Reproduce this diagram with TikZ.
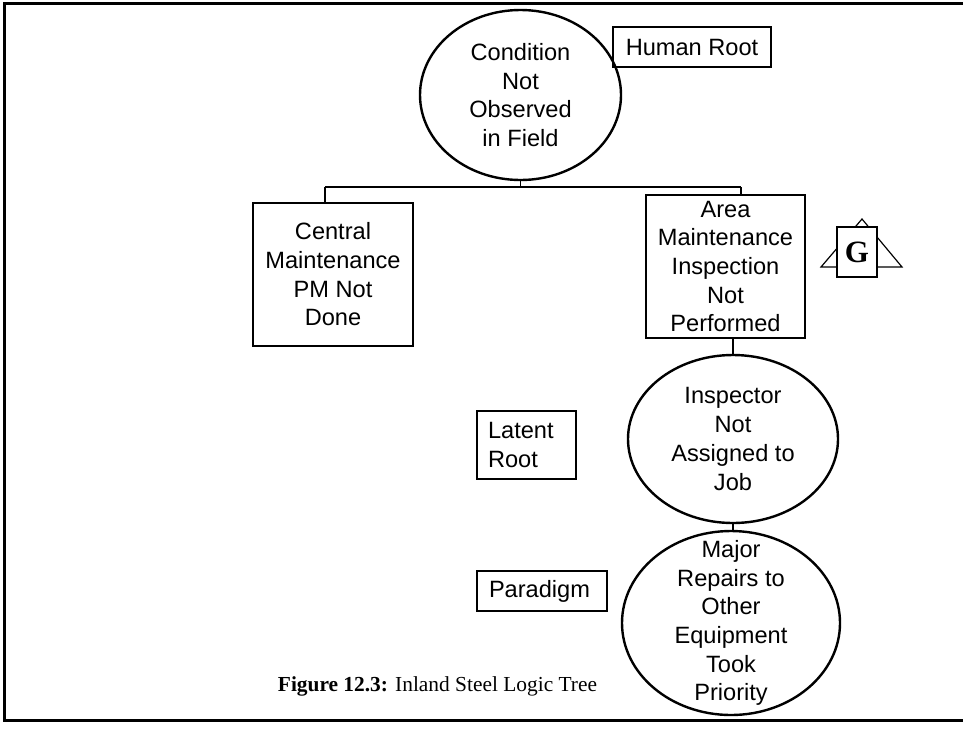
\documentclass[tikz,border=0pt]{standalone}
\usepackage{fontspec}
\setmainfont{Liberation Sans}
\newfontfamily\capfont{Liberation Serif}
\usetikzlibrary{shapes.geometric}

\begin{document}
\begin{tikzpicture}[x=1pt,y=-1pt,
  every node/.style={font=\fontsize{23.6}{28.7}\selectfont,align=center,inner sep=0pt},
  box/.style={draw,rectangle,line width=1.2pt},
  bubble/.style={draw,ellipse,line width=2.4pt},
  lines/.style={align=center},
  every path/.style={line width=1.2pt}]
\useasboundingbox (0,0) rectangle (963,729);
\draw[line width=3pt] (963,3) -- (4,3) -- (4,720) -- (963,720);
\node[bubble,minimum width=201,minimum height=170,label={[lines]center:{Condition\\Not\\Observed\\in Field}}] (cond) at (520.5,95) {};
\node[box,minimum width=158,minimum height=40] (human) at (692,47) {Human Root};
\node[box,minimum width=160,minimum height=143] (cmpm) at (333,274.5) {Central\\Maintenance\\PM Not\\Done};
\node[box,minimum width=159,minimum height=143] (amip) at (725.5,266.5) {Area\\Maintenance\\Inspection\\Not\\Performed};
\node[bubble,minimum width=210,minimum height=168,label={[lines]center:{Inspector\\Not\\Assigned to\\Job}}] (insp) at (733,439) {};
\node[box,minimum width=99,minimum height=68,text width=77,align=left] (latent) at (526.5,445) {Latent\\Root};
\node[bubble,minimum width=218,minimum height=184,label={[lines]center:{Major\\Repairs to\\Other\\Equipment\\Took\\Priority}}] (major) at (731,623) {};
\node[box,minimum width=130,minimum height=40,text width=106,align=left] (para) at (542,591) {Paradigm};
% G marker
\draw (821,267) -- (862,219) -- (902,267) -- cycle;
\node[box,fill=white,minimum width=40,minimum height=50,font=\capfont\bfseries\fontsize{31}{31}\selectfont] (gbox) at (857,252) {G};
% connectors
\coordinate (jl) at (325,187);
\coordinate (jr) at (741,187);
\draw (cond.south) -- (cond.south |- jl);
\draw (jl) -- (jr);
\draw (jl) -- (jl |- cmpm.north);
\draw (jr) -- (jr |- amip.north);
\draw (insp.north |- amip.south) -- (insp.north);
\draw (insp.south) -- (insp.south |- major.north);
\node[font=\capfont\fontsize{21.4}{25}\selectfont] (caption) at (437.5,686) {\textbf{Figure 12.3:} Inland Steel Logic Tree};
\end{tikzpicture}
\end{document}
